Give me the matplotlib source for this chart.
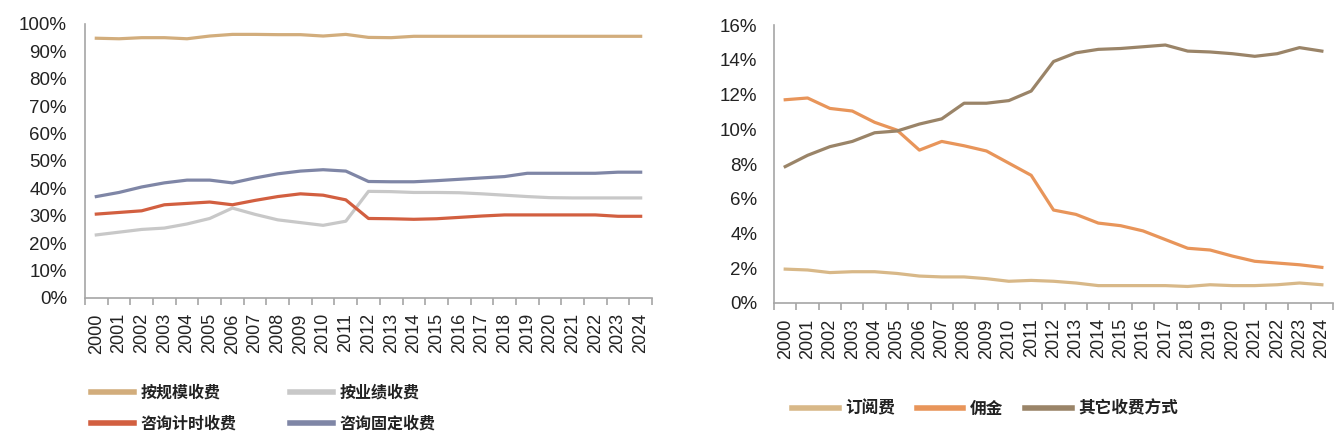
import matplotlib.pyplot as plt
from matplotlib.ticker import FixedLocator, PercentFormatter

plt.rcParams['font.family'] = ['Liberation Sans', 'Noto Sans CJK SC', 'DejaVu Sans']

years = [str(y) for y in range(2000, 2025)]

# left chart (%)
scale_fee = [94.8, 94.6, 95.0, 95.0, 94.6, 95.6, 96.2, 96.2, 96.1, 96.1, 95.6, 96.2, 95.1, 95.0, 95.5,
             95.5, 95.5, 95.5, 95.5, 95.5, 95.5, 95.5, 95.5, 95.5, 95.5]
perf_fee = [23.0, 24.0, 25.0, 25.5, 27.0, 29.0, 32.8, 30.5, 28.5, 27.5, 26.5, 28.0, 38.9, 38.8, 38.5,
            38.5, 38.4, 38.0, 37.5, 37.0, 36.6, 36.5, 36.5, 36.5, 36.5]
hourly_fee = [30.6, 31.2, 31.8, 34.0, 34.5, 35.0, 34.0, 35.6, 37.0, 38.0, 37.5, 35.8, 29.0, 28.9, 28.7,
              28.9, 29.4, 29.9, 30.3, 30.3, 30.3, 30.3, 30.3, 29.8, 29.8]
fixed_fee = [37.0, 38.5, 40.5, 42.0, 43.0, 43.0, 42.0, 43.8, 45.3, 46.3, 46.8, 46.3, 42.5, 42.4, 42.4,
             42.8, 43.3, 43.8, 44.3, 45.5, 45.5, 45.5, 45.5, 45.9, 45.9]

# right chart (%)
subscription = [1.95, 1.9, 1.75, 1.8, 1.8, 1.7, 1.55, 1.5, 1.5, 1.4, 1.25, 1.3, 1.25, 1.15, 1.0,
                1.0, 1.0, 1.0, 0.95, 1.05, 1.0, 1.0, 1.05, 1.15, 1.05]
commission = [11.7, 11.8, 11.2, 11.05, 10.4, 9.95, 8.8, 9.3, 9.05, 8.75, 8.05, 7.35, 5.35, 5.1, 4.6,
              4.45, 4.15, 3.65, 3.15, 3.05, 2.7, 2.4, 2.3, 2.2, 2.05]
other_fee = [7.85, 8.5, 9.0, 9.3, 9.8, 9.9, 10.3, 10.6, 11.5, 11.5, 11.65, 12.2, 13.9, 14.4, 14.6,
             14.65, 14.75, 14.85, 14.5, 14.45, 14.35, 14.2, 14.35, 14.7, 14.5]

left_series = [("按规模收费", scale_fee, "#D2AD7C"), ("按业绩收费", perf_fee, "#C8C8C8"),
               ("咨询计时收费", hourly_fee, "#D25F40"), ("咨询固定收费", fixed_fee, "#7F86A6")]
right_series = [("订阅费", subscription, "#D8B888"), ("佣金", commission, "#E8955A"),
                ("其它收费方式", other_fee, "#9A8468")]

fig = plt.figure(figsize=(13.38, 4.44), dpi=100)
ax1 = fig.add_axes([0.0635, 0.329, 0.4238, 0.617])
ax2 = fig.add_axes([0.5785, 0.3176, 0.4178, 0.626])

x = list(range(len(years)))


def style_axis(ax, ymax, ystep, ypad):
    for side in ("top", "right"):
        ax.spines[side].set_visible(False)
    for side in ("left", "bottom"):
        ax.spines[side].set_color("#A6A6A6")
        ax.spines[side].set_linewidth(1.2)
    ax.set_xlim(-0.5, len(years) - 0.5)
    ax.set_ylim(0, ymax)
    ax.set_xticks(x)
    ax.set_xticklabels(years, rotation=90, fontsize=13, color="#222222")
    ax.xaxis.set_minor_locator(FixedLocator([i - 0.5 for i in range(len(years) + 1)]))
    ax.tick_params(axis="x", which="major", length=0, pad=11)
    ax.tick_params(axis="x", which="minor", length=5, width=1.2, color="#A6A6A6")
    ticks = [i * ystep for i in range(int(round(ymax / ystep)) + 1)]
    ax.set_yticks(ticks)
    ax.yaxis.set_major_formatter(PercentFormatter(decimals=0))
    ax.tick_params(axis="y", length=0, pad=ypad, labelsize=13.5, labelcolor="#222222")


lines1 = []
for label, vals, color in left_series:
    lines1 += ax1.plot(x, vals, color=color, lw=2.3, label=label)
style_axis(ax1, 100, 10, 13)

for label, vals, color in right_series:
    ax2.plot(x, vals, color=color, lw=2.3, label=label)
style_axis(ax2, 16, 2, 12)

# row-wise order: legend fills by column
order = [lines1[0], lines1[2], lines1[1], lines1[3]]
leg1 = ax1.legend(order, [l.get_label() for l in order], loc="upper left",
                  bbox_to_anchor=(0.0, -0.295), ncol=2, frameon=False,
                  prop={"size": 11.5, "weight": "bold"}, handlelength=2.7, handletextpad=0.4,
                  columnspacing=3.35, labelspacing=0.95, borderaxespad=0)
leg2 = ax2.legend(loc="upper left", bbox_to_anchor=(0.02, -0.325), ncol=3, frameon=False,
                  prop={"size": 12, "weight": "bold"}, handlelength=2.8, handletextpad=0.4,
                  columnspacing=1.3, borderaxespad=0)
for leg in (leg1, leg2):
    for h in leg.get_lines():
        h.set_linewidth(4)
    for t in leg.get_texts():
        t.set_color("#222222")

fig.savefig("out.png", dpi=100)
